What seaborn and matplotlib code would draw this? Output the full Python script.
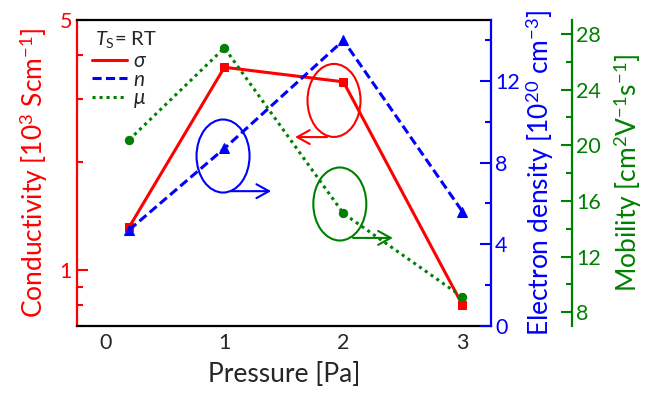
import matplotlib
matplotlib.use('Agg')
import matplotlib.pyplot as plt
import seaborn as sns
from matplotlib.patches import Ellipse
from matplotlib.lines import Line2D
from matplotlib.ticker import FixedLocator, FixedFormatter, MultipleLocator, NullFormatter

# 数据
pressure = [0.2, 1, 2, 3]
sigma = [1.32, 3.69, 3.36, 0.80]        # 10^3 S/cm
density = [4.7, 8.7, 14.0, 5.6]         # 10^20 cm^-3
mobility = [20.4, 27.0, 15.1, 9.1]      # cm^2/Vs

RED, BLUE, GREEN = '#ff0000', '#0000ff', '#008000'

sns.set_style('white')
plt.rcParams['font.family'] = ['Lato', 'DejaVu Sans']
plt.rcParams['mathtext.fontset'] = 'custom'
plt.rcParams['mathtext.rm'] = 'Lato'
plt.rcParams['mathtext.it'] = 'Lato:italic'
plt.rcParams['mathtext.fallback'] = 'stixsans'

TICK = 15.5
LAB = 19

fig = plt.figure(figsize=(6.46, 4.01), dpi=100)
ax = fig.add_axes([0.119, 0.188, 0.641, 0.762])
ax2 = ax.twinx()
ax3 = ax.twinx()
ax3.spines['right'].set_position(('axes', 1.196))

lw = 2.2
sns.lineplot(x=pressure, y=sigma, ax=ax, color=RED, lw=lw, marker='s', ms=5.5,
             mec=RED, estimator=None, sort=False)
sns.lineplot(x=pressure, y=density, ax=ax2, color=BLUE, lw=lw, marker='^', ms=7.5,
             mec=BLUE, estimator=None, sort=False)
ax2.lines[0].set_dashes((3, 1.4))
sns.lineplot(x=pressure, y=mobility, ax=ax3, color=GREEN, lw=lw, marker='o', ms=6,
             mec=GREEN, estimator=None, sort=False)
ax3.lines[0].set_dashes((1, 1.3))

# x axis
ax.set_xlim(-0.24, 3.24)
ax.xaxis.set_major_locator(MultipleLocator(1))
ax.xaxis.set_minor_locator(MultipleLocator(0.5))
ax.set_xlabel('Pressure [Pa]', fontsize=LAB, labelpad=7)

# left: conductivity (log)
ax.set_yscale('log')
ax.set_ylim(0.7, 5)
ax.yaxis.set_major_locator(FixedLocator([1, 5]))
ax.yaxis.set_minor_locator(FixedLocator([0.7, 0.8, 0.9, 2, 3, 4]))
ax.yaxis.set_major_formatter(FixedFormatter(['1', '5']))
ax.yaxis.set_minor_formatter(NullFormatter())
ax.set_ylabel('Conductivity [10$^3$ Scm$^{-1}$]', color=RED, fontsize=LAB, labelpad=7)

# right: density
ax2.set_ylim(0, 15)
ax2.yaxis.set_major_locator(MultipleLocator(4))
ax2.yaxis.set_minor_locator(MultipleLocator(2))
ax2.set_ylabel('Electron density [10$^{20}$ cm$^{-3}$]', color=BLUE, fontsize=LAB, labelpad=3)

# far right: mobility
ax3.set_ylim(7.04, 29.0)
ax3.yaxis.set_major_locator(MultipleLocator(4))
ax3.yaxis.set_minor_locator(MultipleLocator(2))
ax3.set_ylabel('Mobility [cm$^2$V$^{-1}$s$^{-1}$]', color=GREEN, fontsize=LAB, labelpad=8)

for a in (ax, ax2, ax3):
    a.tick_params(which='both', direction='in', width=1.5, labelsize=TICK)
    a.tick_params(which='major', length=8)
    a.tick_params(which='minor', length=4.5)
    for s in a.spines.values():
        s.set_linewidth(1.6)
        s.set_color('black')

ax.tick_params(axis='x', which='both', top=False, pad=5)
ax.tick_params(axis='y', which='both', colors=RED, right=False)
ax.spines['left'].set_color(RED)
ax.spines['right'].set_visible(False)
ax2.tick_params(axis='y', which='both', colors=BLUE, pad=3)
ax2.spines['right'].set_color(BLUE)
ax3.tick_params(axis='y', which='both', colors=GREEN, pad=3)
ax3.spines['right'].set_color(GREEN)
for a in (ax2, ax3):
    a.spines['left'].set_visible(False)
    a.spines['top'].set_visible(False)
    a.spines['bottom'].set_visible(False)

# 标注：椭圆 + 箭头
ann = [
    ((0.353, 0.555), (0.372, 0.440), (0.469, 0.440), BLUE),
    ((0.621, 0.737), (0.604, 0.617), (0.527, 0.617), RED),
    ((0.635, 0.398), (0.667, 0.287), (0.763, 0.287), GREEN),
]
for (cx, cy), start, end, c in ann:
    ax.add_patch(Ellipse((cx, cy), 0.128, 0.239, transform=ax.transAxes,
                         fill=False, ec=c, lw=1.5, zorder=5))
    ax.annotate('', xy=end, xytext=start, xycoords='axes fraction',
                arrowprops=dict(arrowstyle='->,head_length=0.9,head_width=0.5',
                                color=c, lw=1.5, shrinkA=0, shrinkB=0))

# 图例（标题单独写）
ax.text(0.043, 0.918, '$T_\\mathrm{S}$= RT', transform=ax.transAxes,
        fontsize=14.5, va='baseline', ha='left', zorder=10)
handles = [
    Line2D([], [], color=RED, lw=lw),
    Line2D([], [], color=BLUE, lw=lw, dashes=(3, 1.4)),
    Line2D([], [], color=GREEN, lw=lw, dashes=(1, 1.3)),
]
leg = ax.legend(handles, ['$\\sigma$', '$n$', '$\\mu$'], loc='upper left',
                bbox_to_anchor=(0.036, 0.898), fontsize=15,
                frameon=False, handlelength=1.68, handletextpad=0.29,
                labelspacing=-0.08, borderaxespad=0.0, borderpad=0.0)
leg.set_zorder(10)

fig.savefig('out.png', dpi=100)
